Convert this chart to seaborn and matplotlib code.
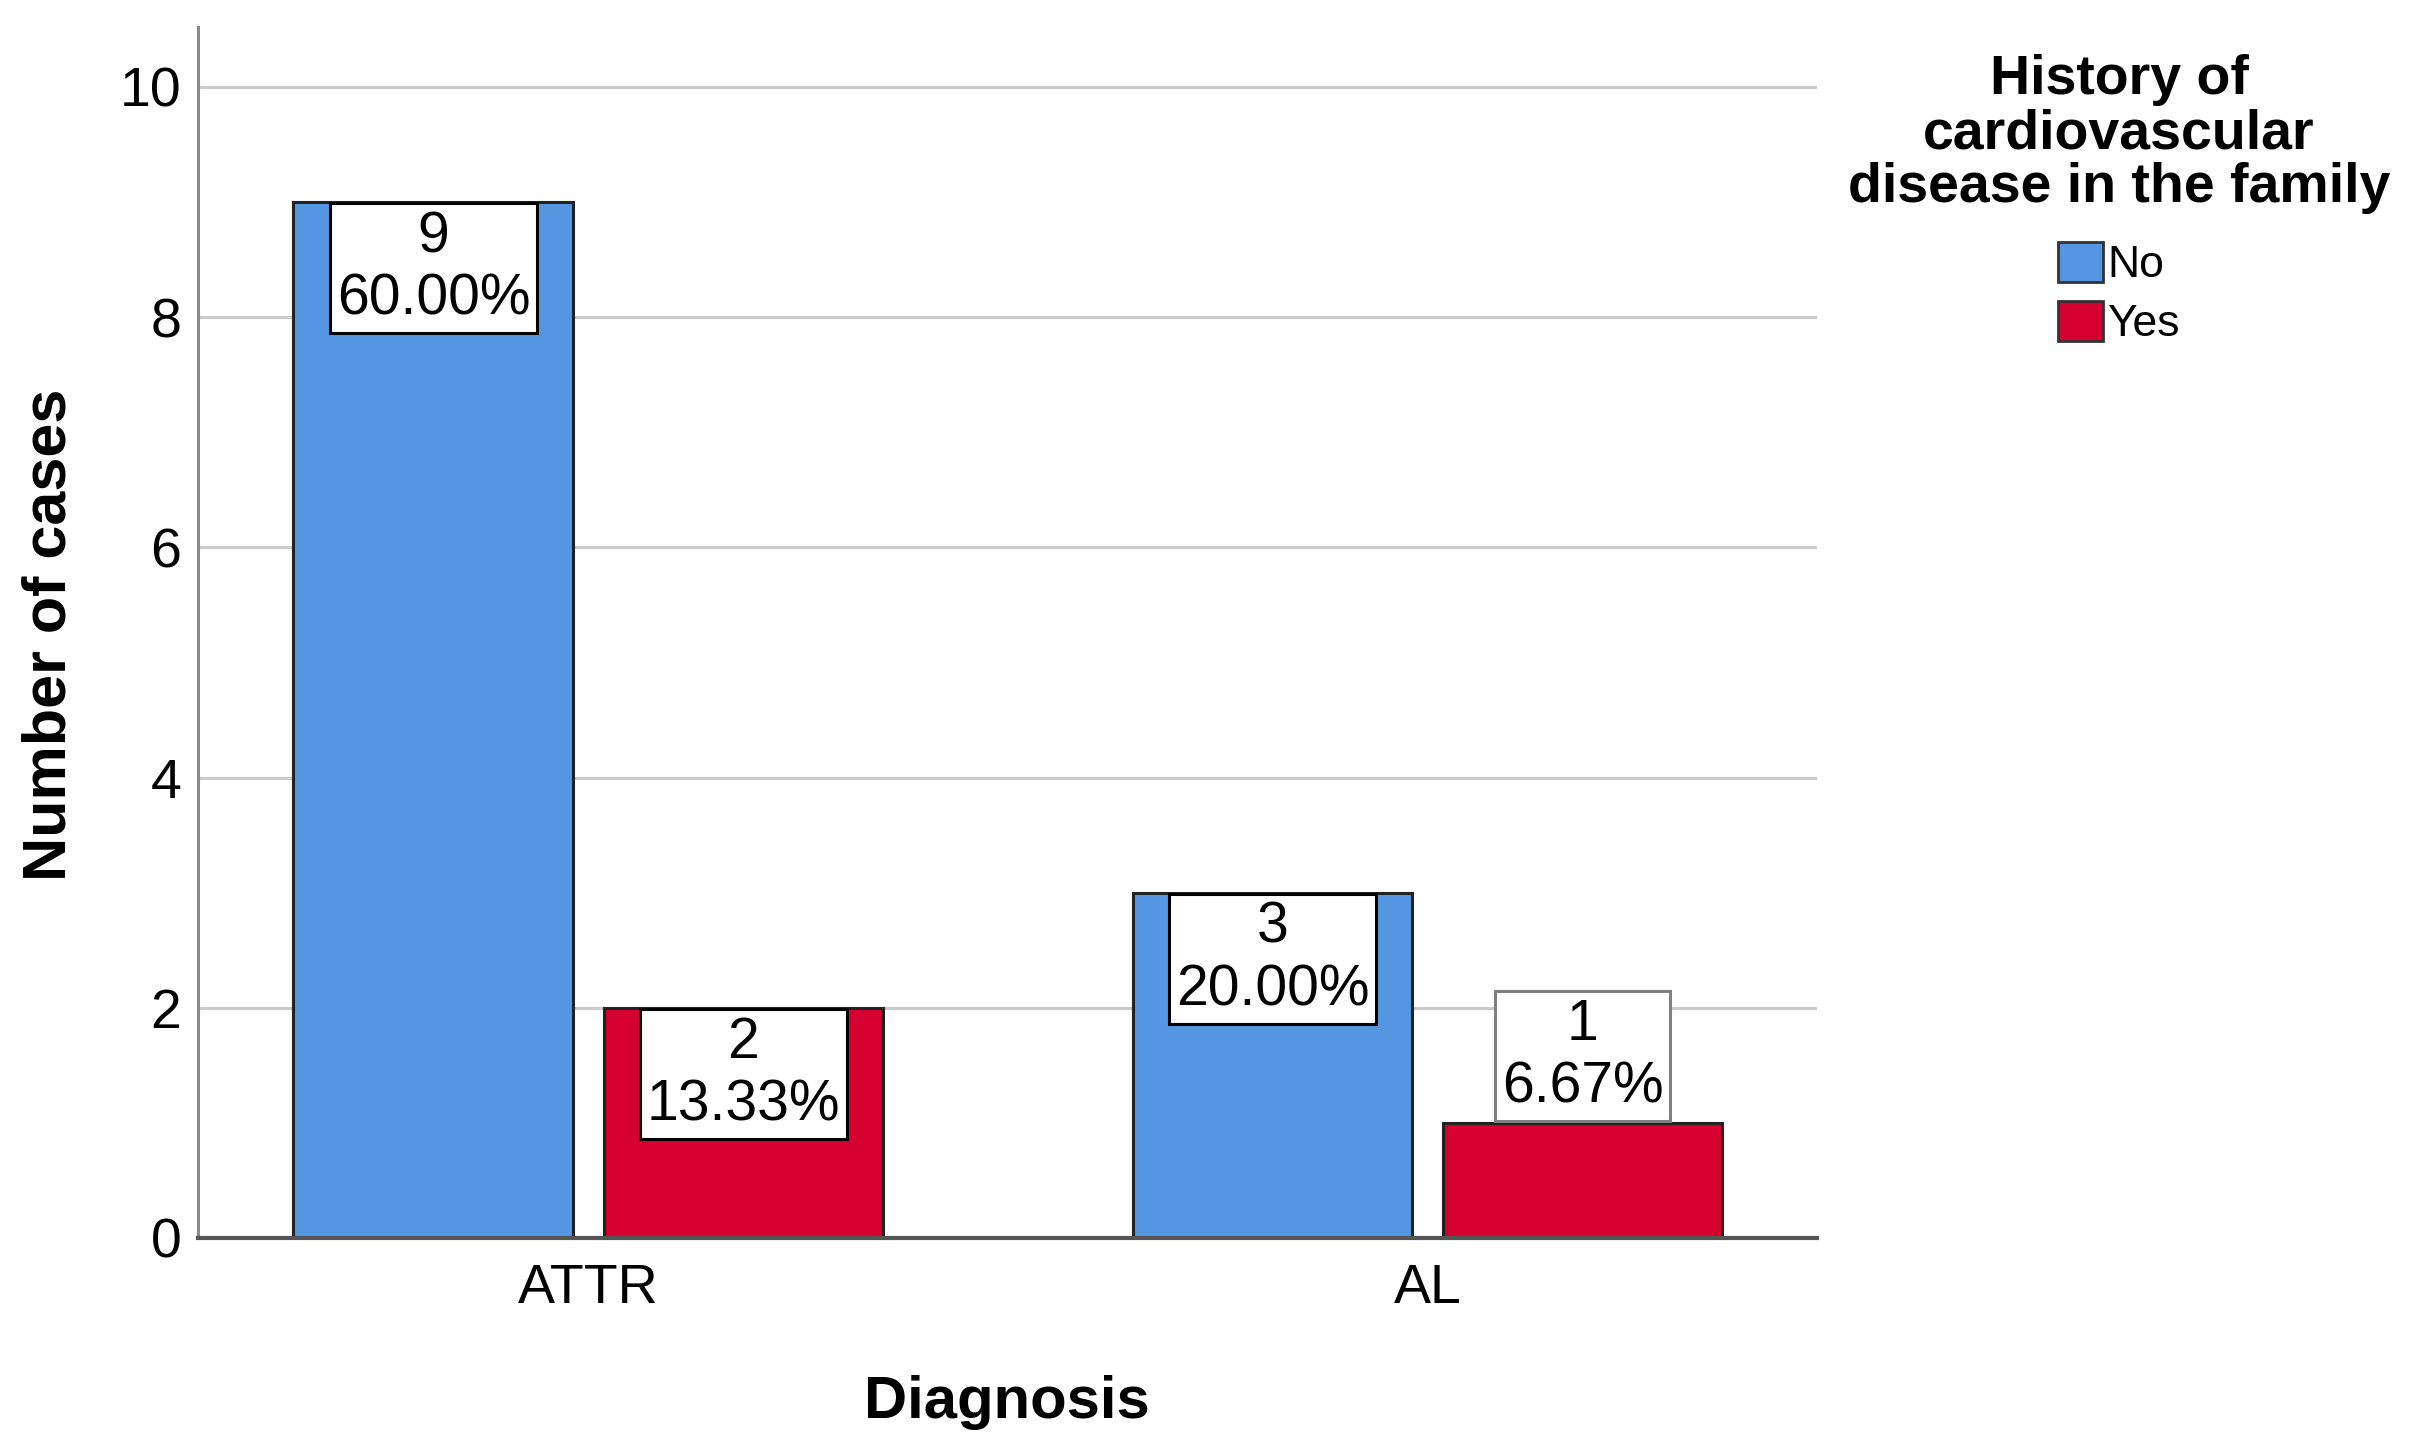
import matplotlib
matplotlib.use('Agg')
import matplotlib.pyplot as plt
import seaborn as sns
import pandas as pd

# chart data
diagnosis = ['ATTR', 'ATTR', 'AL', 'AL']
family_history = ['No', 'Yes', 'No', 'Yes']
cases = [9, 2, 3, 1]
diagnosis_order = ['ATTR', 'AL']
history_order = ['No', 'Yes']
y_ticks = [0, 2, 4, 6, 8, 10]
palette = {'No': '#5596E3', 'Yes': '#D5002F'}

df = pd.DataFrame({'Diagnosis': diagnosis, 'History': family_history, 'Cases': cases})
total = df['Cases'].sum()

sns.set_theme(style='white')
plt.rcParams['font.family'] = ['Liberation Sans', 'DejaVu Sans']
plt.rcParams['text.color'] = 'black'
plt.rcParams['axes.labelcolor'] = 'black'
plt.rcParams['xtick.color'] = 'black'
plt.rcParams['ytick.color'] = 'black'

fig = plt.figure(figsize=(24.19, 14.51), dpi=100)
ax = fig.add_axes([0.08185, 0.1468, 0.6693, 0.8346])

sns.barplot(data=df, x='Diagnosis', y='Cases', hue='History',
            order=diagnosis_order, hue_order=history_order, palette=palette,
            width=0.739, gap=0.097, saturation=1, errorbar=None,
            edgecolor='#222222', linewidth=2.2, ax=ax)

ax.set_xlim(-0.4654, 1.4643)
ax.set_ylim(0, 10.52)
ax.set_yticks(y_ticks)
ax.yaxis.grid(True, color='#cacaca', linewidth=2.2)
ax.set_axisbelow(True)
for side in ['top', 'right']:
    ax.spines[side].set_visible(False)
ax.spines['left'].set_color('#8a8a8a')
ax.spines['left'].set_linewidth(2.2)
ax.spines['bottom'].set_color('#555555')
ax.spines['bottom'].set_linewidth(3)
ax.tick_params(axis='both', labelsize=40, length=0, colors='black')
ax.tick_params(axis='x', pad=18)
ax.tick_params(axis='y', pad=12)

ax.set_xlabel('Diagnosis', fontsize=43, fontweight='bold')
ax.set_ylabel('Number of cases', fontsize=44, fontweight='bold')
ax.xaxis.set_label_coords(0.4994, -0.136)
ax.yaxis.set_label_coords(-0.0915, 0.498)
ax.xaxis.label.set_va('center')
ax.yaxis.label.set_va('center')

# value labels in white boxes
label_size = 41
box_pad = 0.12
pad_pts = box_pad * label_size
labels = []
for container in ax.containers:
    for bar in container:
        h = bar.get_height()
        cx = bar.get_x() + bar.get_width() / 2
        txt = f'{int(h)}\n{h / total * 100:.2f}%'
        ann = ax.annotate(txt, xy=(cx, h), xytext=(0, -pad_pts - 1),
                          textcoords='offset points', ha='center', va='top',
                          fontsize=label_size, linespacing=1.2, zorder=5,
                          bbox=dict(boxstyle=f'square,pad={box_pad}', fc='white',
                                    ec='black', lw=2.2))
        labels.append((ann, bar))

fig.canvas.draw()
renderer = fig.canvas.get_renderer()
for ann, bar in labels:
    box = ann.get_bbox_patch().get_window_extent(renderer)
    bar_ext = bar.get_window_extent(renderer)
    if box.y0 < bar_ext.y0:
        # does not fit inside the bar, put it on top
        ann.set_va('bottom')
        ann.xyann = (0, pad_pts + 1)
        ann.get_bbox_patch().set_edgecolor('#808080')

leg = ax.legend(title='History of\ncardiovascular\ndisease in the family',
                loc='upper center', bbox_to_anchor=(0.876, 0.975),
                bbox_transform=fig.transFigure, frameon=False,
                fontsize=32, title_fontproperties={'weight': 'bold', 'size': 40},
                handlelength=1.0, handleheight=1.0, handletextpad=0.1,
                labelspacing=0.34, borderaxespad=0)
leg.get_title().set_linespacing(1.05)
leg.get_title().set_ha('center')
leg._legend_box.sep = 20
for patch in leg.get_patches():
    patch.set_edgecolor('#333333')
    patch.set_linewidth(2)

fig.savefig('out.png', dpi=100)
